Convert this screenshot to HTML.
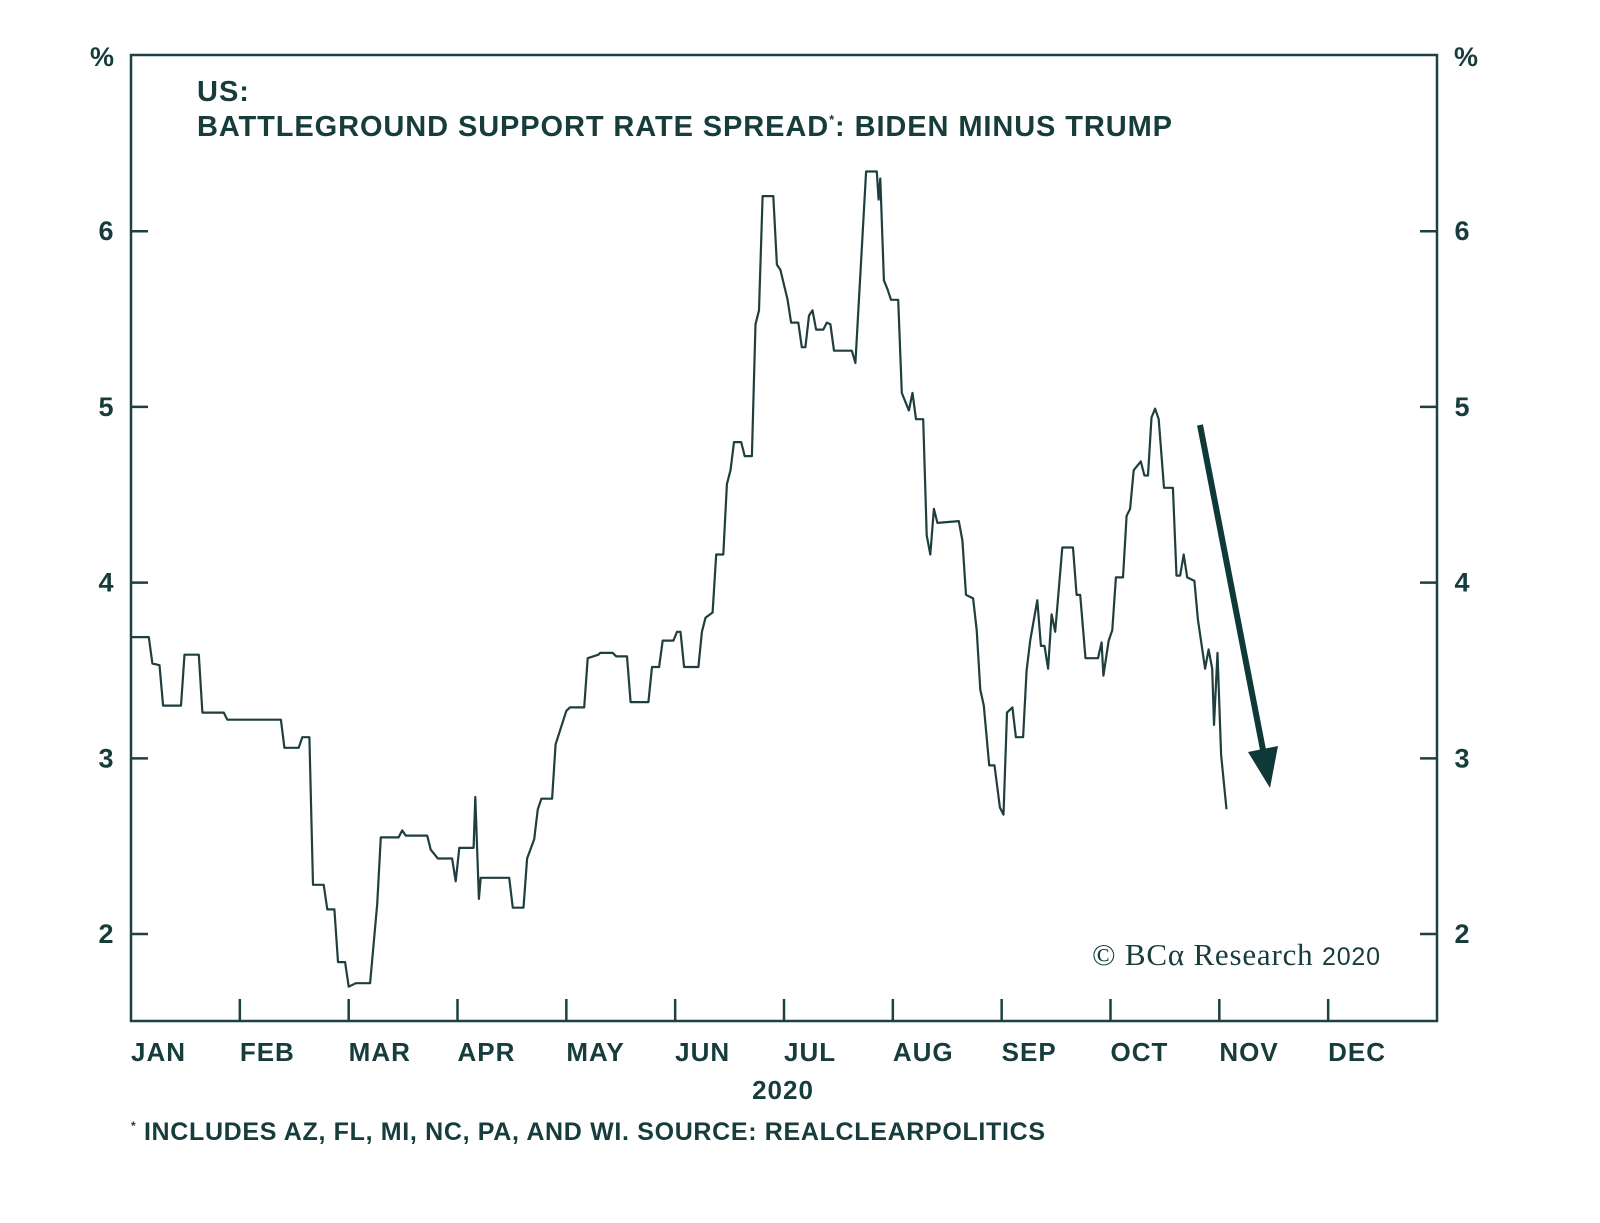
<!DOCTYPE html>
<html><head><meta charset="utf-8"><style>
body{margin:0;background:#fff;}
svg text{font-family:"Liberation Sans",sans-serif;fill:#173c3c;}
</style></head><body>
<svg width="1600" height="1218" viewBox="0 0 1600 1218" xmlns="http://www.w3.org/2000/svg">
<g id="root"></g>
</svg>
<script>
const monthLabels=["JAN","FEB","MAR","APR","MAY","JUN","JUL","AUG","SEP","OCT","NOV","DEC"];
const yTicks=[2,3,4,5,6];
const days=[0,5,6,8,9,14,15,19,20,26,27,42,43,47,48,50,51,54,55,57,58,60,61,63,67,69,70,71,75,76,77,83,84,86,90,91,92,96,96.5,97.5,98,106,107,110,111,113,114,115,118,119,122,123,127,128,131,131.5,135,136,139,140,145,146,148,149,152,153,154,155,159,160,161,163,164,166,167,168,169,171,172,174,174.5,175,176,177,180,181,182,184,185,187,188,189,190,191,192,194,195,196,197,202,203,206,209,209.5,210,211,212,213,215,216,218,219,220,222,223,224,225,226,232,233,234,236,237,238,239,240.5,242,243.5,244.5,245.5,247,248,250,251,252,254,255,256,257,258,259,261,264,265,266,267.5,271,272,272.5,274,275,276,278,279,280,281,283,284,285,286,287,288,289.5,292,293,294,295,296,298,299,301,302,303,303.5,304.5,305.5,307];
const values=[3.69,3.69,3.54,3.53,3.30,3.30,3.59,3.59,3.26,3.26,3.22,3.22,3.06,3.06,3.12,3.12,2.28,2.28,2.14,2.14,1.84,1.84,1.70,1.72,1.72,2.17,2.55,2.55,2.55,2.59,2.56,2.56,2.48,2.43,2.43,2.30,2.49,2.49,2.78,2.20,2.32,2.32,2.15,2.15,2.43,2.54,2.71,2.77,2.77,3.08,3.27,3.29,3.29,3.57,3.59,3.60,3.60,3.58,3.58,3.32,3.32,3.52,3.52,3.67,3.67,3.72,3.72,3.52,3.52,3.72,3.80,3.83,4.16,4.16,4.56,4.64,4.80,4.80,4.72,4.72,5.10,5.47,5.55,6.20,6.20,5.81,5.78,5.61,5.48,5.48,5.34,5.34,5.52,5.55,5.44,5.44,5.48,5.47,5.32,5.32,5.25,6.34,6.34,6.18,6.30,5.72,5.67,5.61,5.61,5.08,4.98,5.08,4.93,4.93,4.27,4.16,4.42,4.34,4.35,4.24,3.93,3.91,3.73,3.39,3.30,2.96,2.96,2.72,2.68,3.26,3.29,3.12,3.12,3.50,3.67,3.90,3.64,3.64,3.51,3.82,3.72,4.20,4.20,3.93,3.93,3.57,3.57,3.66,3.47,3.67,3.73,4.03,4.03,4.38,4.42,4.64,4.69,4.61,4.61,4.94,4.99,4.93,4.54,4.54,4.04,4.04,4.16,4.03,4.01,3.79,3.51,3.62,3.51,3.19,3.60,3.02,2.71];
const L=131,R=1437,T=55,B=1021,C="#1d4040";
const xDay=d=>L+d*(R-L)/366;
const yVal=v=>B-(v-1.505)*175.7;
const root=document.getElementById('root');
const NS="http://www.w3.org/2000/svg";
function mk(tag,attrs,parent){const e=document.createElementNS(NS,tag);for(const k in attrs)e.setAttribute(k,attrs[k]);(parent||root).appendChild(e);return e;}
const frame=mk('rect',{x:L,y:T,width:R-L,height:B-T,fill:'none',stroke:C,'stroke-width':2.5});


yTicks.forEach(v=>{const y=yVal(v);
 const t1=mk('line',{x1:L,x2:L+17,y1:y,y2:y,stroke:C,'stroke-width':2.5});
 
 
 const t2=mk('line',{x1:R-17,x2:R,y1:y,y2:y,stroke:C,'stroke-width':2.5});
 
 
 const a=mk('text',{x:106,y:y+9,'font-size':27,'font-weight':'bold','text-anchor':'middle'});a.textContent=v;
 
 
 const b=mk('text',{x:1462,y:y+9,'font-size':27,'font-weight':'bold','text-anchor':'middle'});b.textContent=v;
 
 
});
for(let i=0;i<=12;i++){const x=L+i*(R-L)/12;
 if(i>0&&i<12){const t=mk('line',{x1:x,x2:x,y1:B-22,y2:B,stroke:C,'stroke-width':2.5});
 
 }
 if(i<12){const l=mk('text',{x:x,y:1061,'font-size':26,'font-weight':'bold','letter-spacing':1});l.textContent=monthLabels[i];
 
 }
}
const pts=days.map((d,i)=>xDay(d).toFixed(1)+','+yVal(values[i]).toFixed(1)).join(' ');
const line=mk('polyline',{points:pts,fill:'none',stroke:'#1f3e3e','stroke-width':2.2,'stroke-linejoin':'round'});


</script>
<svg width="1600" height="1218" style="position:absolute;left:0;top:0" xmlns="http://www.w3.org/2000/svg">
<text x="90" y="66" font-size="27" font-weight="bold">%</text>
<text x="1454" y="66" font-size="27" font-weight="bold">%</text>
<text x="197" y="101" font-size="29" font-weight="bold" letter-spacing="1">US:</text>
<text x="197" y="136" font-size="29" font-weight="bold" letter-spacing="1" textLength="976">BATTLEGROUND SUPPORT RATE SPREAD<tspan font-size="13" dy="-12">*</tspan><tspan dy="12">: BIDEN MINUS TRUMP</tspan></text>
<text x="783" y="1099" font-size="26" font-weight="bold" letter-spacing="1" text-anchor="middle">2020</text>
<text x="131" y="1140" font-size="25" font-weight="bold" textLength="914"><tspan font-size="12" dy="-10">*</tspan><tspan dy="10"> INCLUDES AZ, FL, MI, NC, PA, AND WI. SOURCE: REALCLEARPOLITICS</tspan></text>
<text x="1092" y="965" font-size="31" style="font-family:'Liberation Serif',serif" textLength="288">© BCα Research <tspan style="font-family:'Liberation Sans',sans-serif" font-size="25">2020</tspan></text>
<g>
<line x1="1200" y1="425" x2="1264" y2="755" stroke="#0f3838" stroke-width="6"/>
<polygon points="1248,752 1278,746 1270,788" fill="#0f3838"/>
</g>
</svg>
</body></html>
